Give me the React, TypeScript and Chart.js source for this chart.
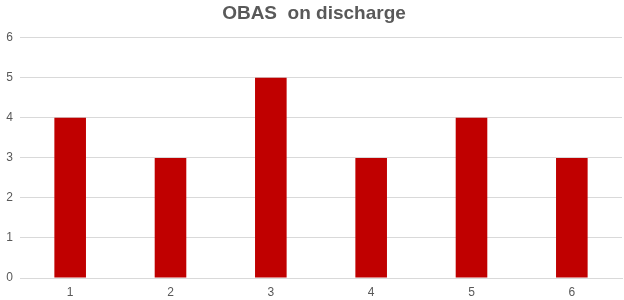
import React, { useEffect, useRef } from "react";
import { Chart, registerables } from "chart.js";

Chart.register(...registerables);

const categories = ["1", "2", "3", "4", "5", "6"];
const values = [4, 3, 5, 3, 4, 3];
const chartTitle = "OBAS  on discharge";
const yMin = 0;
const yMax = 6;

export default function App() {
  const ref = useRef<HTMLCanvasElement | null>(null);
  useEffect(() => {
    if (!ref.current) return;
    const chart = new Chart(ref.current, {
      type: "bar",
      data: {
        labels: categories,
        datasets: [
          {
            data: values,
            backgroundColor: "#C00000",
            borderWidth: 0,
            categoryPercentage: 1,
            barPercentage: 0.315,
          },
        ],
      },
      options: {
        animation: false,
        responsive: false,
        maintainAspectRatio: false,
        layout: { padding: { top: 2, left: 6, right: 2, bottom: 0 } },
        plugins: {
          legend: { display: false },
          tooltip: { enabled: false },
          title: {
            display: true,
            text: chartTitle,
            color: "#595959",
            font: { family: "'Liberation Sans', Arial, sans-serif", size: 19, weight: "bold" },
            padding: { top: 0, bottom: 13 },
          },
        },
        scales: {
          x: {
            grid: { display: false, drawTicks: false },
            border: { display: true, color: "#D9D9D9", width: 1 },
            ticks: {
              color: "#595959",
              font: { family: "'Liberation Sans', Arial, sans-serif", size: 12 },
              padding: 7,
            },
            afterFit: (axis: any) => {
              axis.height = 22;
            },
          },
          y: {
            min: yMin,
            max: yMax,
            grid: { color: "#D9D9D9", drawTicks: false },
            border: { display: false },
            ticks: {
              stepSize: 1,
              color: "#595959",
              font: { family: "'Liberation Sans', Arial, sans-serif", size: 12 },
              padding: 7,
            },
            afterFit: (axis: any) => {
              axis.width = 14;
            },
          },
        },
      },
    });
    return () => chart.destroy();
  }, []);
  return (
    <div style={{ position: "fixed", left: 0, top: 0, width: 624, height: 300, background: "#fff" }}>
      <canvas ref={ref} width={624} height={300} style={{ width: 624, height: 300 }} />
    </div>
  );
}
